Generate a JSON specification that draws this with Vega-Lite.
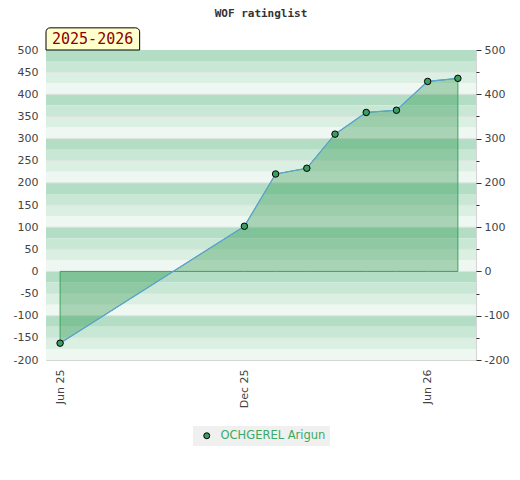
{
  "$schema": "https://vega.github.io/schema/vega-lite/v6.json",
  "description": "WOF ratinglist for OCHGEREL Arigun, season 2025-2026.",
  "autosize": {"type": "none"},
  "padding": {"left": 46, "top": 50, "right": 44, "bottom": 120},
  "width": 430,
  "height": 310,
  "title": {
    "text": "WOF ratinglist",
    "font": "DejaVu Sans Mono",
    "fontSize": 11,
    "fontWeight": "bold",
    "color": "#333333",
    "offset": 8
  },
  "datasets": {
    "rating": [
      {"date": "2025-06-01", "rating": -162, "player": "OCHGEREL Arigun"},
      {"date": "2025-12-01", "rating": 102, "player": "OCHGEREL Arigun"},
      {"date": "2026-01-01", "rating": 220, "player": "OCHGEREL Arigun"},
      {"date": "2026-02-01", "rating": 233, "player": "OCHGEREL Arigun"},
      {"date": "2026-03-01", "rating": 310, "player": "OCHGEREL Arigun"},
      {"date": "2026-04-01", "rating": 359, "player": "OCHGEREL Arigun"},
      {"date": "2026-05-01", "rating": 364, "player": "OCHGEREL Arigun"},
      {"date": "2026-06-01", "rating": 429, "player": "OCHGEREL Arigun"},
      {"date": "2026-07-01", "rating": 436, "player": "OCHGEREL Arigun"}
    ],
    "stripes": [
      {"lo": 475, "hi": 500, "band": "a"}, {"lo": 450, "hi": 475, "band": "b"},
      {"lo": 425, "hi": 450, "band": "c"}, {"lo": 400, "hi": 425, "band": "d"},
      {"lo": 375, "hi": 400, "band": "a"}, {"lo": 350, "hi": 375, "band": "b"},
      {"lo": 325, "hi": 350, "band": "c"}, {"lo": 300, "hi": 325, "band": "d"},
      {"lo": 275, "hi": 300, "band": "a"}, {"lo": 250, "hi": 275, "band": "b"},
      {"lo": 225, "hi": 250, "band": "c"}, {"lo": 200, "hi": 225, "band": "d"},
      {"lo": 175, "hi": 200, "band": "a"}, {"lo": 150, "hi": 175, "band": "b"},
      {"lo": 125, "hi": 150, "band": "c"}, {"lo": 100, "hi": 125, "band": "d"},
      {"lo": 75, "hi": 100, "band": "a"}, {"lo": 50, "hi": 75, "band": "b"},
      {"lo": 25, "hi": 50, "band": "c"}, {"lo": 0, "hi": 25, "band": "d"},
      {"lo": -25, "hi": 0, "band": "a"}, {"lo": -50, "hi": -25, "band": "b"},
      {"lo": -75, "hi": -50, "band": "c"}, {"lo": -100, "hi": -75, "band": "d"},
      {"lo": -125, "hi": -100, "band": "a"}, {"lo": -150, "hi": -125, "band": "b"},
      {"lo": -175, "hi": -150, "band": "c"}, {"lo": -200, "hi": -175, "band": "d"}
    ],
    "gridlines": [
      {"v": 450}, {"v": 400}, {"v": 350}, {"v": 300}, {"v": 250}, {"v": 200},
      {"v": 150}, {"v": 100}, {"v": 50}, {"v": 0}, {"v": -50}, {"v": -100}, {"v": -150}
    ],
    "tab": [
      {"start": "2025-05-18", "end": "2025-08-19", "lo": 500, "hi": 550, "mid": 524, "label": "2025-2026"}
    ]
  },
  "layer": [
    {
      "data": {"name": "stripes"},
      "mark": {"type": "rect"},
      "encoding": {
        "y": {
          "field": "lo", "type": "quantitative",
          "scale": {"domain": [-200, 500], "nice": false, "zero": false},
          "axis": {
            "orient": "left", "title": null,
            "values": [-200, -150, -100, -50, 0, 50, 100, 150, 200, 250, 300, 350, 400, 450, 500],
            "labelExpr": "'' + datum.value",
            "ticks": false, "domain": false, "grid": false, "labelPadding": 8
          }
        },
        "y2": {"field": "hi"},
        "color": {
          "field": "band", "type": "nominal",
          "scale": {"domain": ["a", "b", "c", "d"], "range": ["#b3dec5", "#c8e7d5", "#dcefe3", "#eef7f1"]},
          "legend": null
        }
      }
    },
    {
      "data": {"name": "gridlines"},
      "mark": {"type": "rule", "color": "#dce4df", "strokeWidth": 1},
      "encoding": {
        "y": {"field": "v", "type": "quantitative", "axis": null}
      }
    },
    {
      "data": {"name": "rating"},
      "mark": {"type": "area", "fill": "#1a8c3c", "fillOpacity": 0.33, "stroke": "#3aa55a", "strokeWidth": 1},
      "encoding": {
        "x": {
          "field": "date", "type": "temporal",
          "scale": {
            "type": "utc",
            "domain": [{"year": 2025, "month": 5, "date": 18, "utc": true}, {"year": 2026, "month": 7, "date": 19, "utc": true}]
          },
          "axis": {
            "title": null, "format": "%b %y", "labelAngle": -90,
            "values": [
              {"year": 2025, "month": 6, "date": 1, "utc": true},
              {"year": 2025, "month": 12, "date": 1, "utc": true},
              {"year": 2026, "month": 6, "date": 1, "utc": true}
            ],
            "ticks": false, "domain": false, "grid": false, "labelPadding": 9
          }
        },
        "y": {
          "field": "rating", "type": "quantitative", "stack": null,
          "scale": {"domain": [-200, 500], "nice": false, "zero": false},
          "axis": {
            "orient": "right", "title": null,
            "values": [-200, -150, -100, -50, 0, 50, 100, 150, 200, 250, 300, 350, 400, 450, 500],
            "labelExpr": "datum.value % 100 === 0 ? '' + datum.value : ''",
            "tickSize": {"condition": {"test": "datum.value % 100 === 0", "value": 5}, "value": 3},
            "tickColor": "#333333",
            "domain": false, "grid": false, "labelPadding": 3
          }
        }
      }
    },
    {
      "data": {"name": "rating"},
      "mark": {"type": "line", "color": "#5ea3d6", "strokeWidth": 1.2},
      "encoding": {
        "x": {"field": "date", "type": "temporal"},
        "y": {"field": "rating", "type": "quantitative", "axis": null}
      }
    },
    {
      "data": {"name": "rating"},
      "mark": {"type": "point", "shape": "circle", "filled": true, "size": 42, "stroke": "#000000", "strokeWidth": 1, "opacity": 1},
      "encoding": {
        "x": {"field": "date", "type": "temporal"},
        "y": {"field": "rating", "type": "quantitative", "axis": null},
        "fill": {
          "field": "player", "type": "nominal",
          "scale": {"range": ["#3a9e62"]},
          "legend": {
            "title": null, "orient": "none", "legendX": 147, "legendY": 376,
            "fillColor": "#f0f0f0", "padding": 4, "symbolOffset": 4,
            "symbolType": "circle", "symbolSize": 36,
            "symbolStrokeColor": "#000000", "symbolStrokeWidth": 1,
            "labelColor": "#3aaa64", "labelFont": "DejaVu Sans", "labelFontSize": 11.5, "labelOffset": 8
          }
        }
      }
    },
    {
      "data": {"name": "tab"},
      "mark": {"type": "rect", "clip": false, "fill": "#ffffcc", "stroke": "#000000", "strokeWidth": 1, "cornerRadiusTopLeft": 4, "cornerRadiusTopRight": 4},
      "encoding": {
        "x": {"field": "start", "type": "temporal"},
        "x2": {"field": "end"},
        "y": {"field": "lo", "type": "quantitative", "axis": null},
        "y2": {"field": "hi"}
      }
    },
    {
      "data": {"name": "tab"},
      "mark": {"type": "text", "clip": false, "align": "left", "baseline": "middle", "dx": 6, "font": "DejaVu Sans Mono", "fontSize": 15, "color": "#8b0000"},
      "encoding": {
        "x": {"field": "start", "type": "temporal"},
        "y": {"field": "mid", "type": "quantitative", "axis": null},
        "text": {"field": "label"}
      }
    }
  ],
  "resolve": {"axis": {"y": "independent"}},
  "config": {
    "view": {"stroke": "#d4d4d4"},
    "axis": {"labelFont": "DejaVu Sans", "labelFontSize": 11, "labelColor": "#444444"}
  }
}
